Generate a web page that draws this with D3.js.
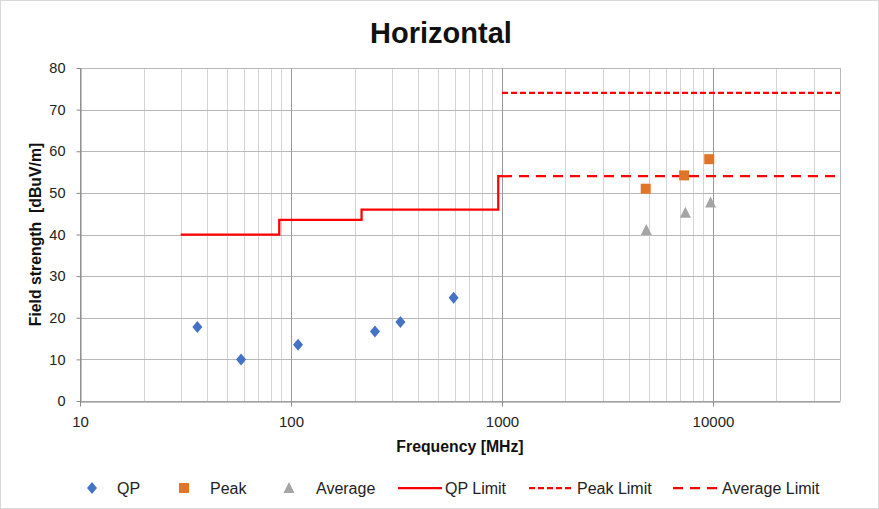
<!DOCTYPE html>
<html>
<head>
<meta charset="utf-8">
<script src="https://cdn.jsdelivr.net/npm/d3@7"></script>
<style>
  body { margin: 0; background: #fff; }
  text { font-family: "Liberation Sans", Arial, sans-serif; }
</style>
</head>
<body>
<div id="app"></div>
<script>
// measured points
const qpFreq = [36, 58, 108, 250, 330, 590]
    , qpLevel = [17.8, 10, 13.5, 16.7, 19, 24.8];
const peakFreq = [4800, 7300, 9600]
    , peakLevel = [51, 54.2, 58.1];
const avgFreq = [4830, 7400, 9750]
    , avgLevel = [41.1, 45.2, 47.7];

// limit lines (step)
const qpLimitFreq = [30, 88, 88, 216, 216, 960, 960, 1000]
    , qpLimitLevel = [40, 40, 43.5, 43.5, 46, 46, 54, 54];
const peakLimitFreq = [1000, 40000]
    , peakLimitLevel = [74, 74];
const avgLimitFreq = [1000, 40000]
    , avgLimitLevel = [54, 54];

const xTicks = [10, 100, 1000, 10000];
const yTicks = [0, 10, 20, 30, 40, 50, 60, 70, 80];
const legendLabels = ["QP", "Peak", "Average", "QP Limit", "Peak Limit", "Average Limit"];

const width = 879
    , height = 509
    , margin = { top: 68, right: 39, bottom: 108, left: 80 };

const font = "Liberation Sans, Arial, sans-serif";

const svg = d3.select("#app").append("svg")
    .attr("width", width)
    .attr("height", height);

svg.append("rect")
    .attr("x", 0.5).attr("y", 0.5)
    .attr("width", width - 1).attr("height", height - 1)
    .attr("fill", "#fff")
    .attr("stroke", "#d9d9d9");

const x = d3.scaleLog()
    .domain([10, 40000])
    .range([margin.left, width - margin.right]);

const y = d3.scaleLinear()
    .domain([0, 80])
    .range([height - margin.bottom, margin.top]);

// grid
const minor = [];
[10, 100, 1000, 10000].forEach(dec => {
  for (let k = 2; k <= 9; k++) if (dec * k <= 40000) minor.push(dec * k);
});

svg.append("g")
  .selectAll("line")
    .data(minor)
  .enter().append("line")
    .attr("x1", d => Math.round(x(d)) + 0.5)
    .attr("x2", d => Math.round(x(d)) + 0.5)
    .attr("y1", y(0))
    .attr("y2", y(80))
    .attr("stroke", "#d4d4d4");

svg.append("g")
  .selectAll("line")
    .data(yTicks)
  .enter().append("line")
    .attr("x1", x(10))
    .attr("x2", x(40000))
    .attr("y1", d => Math.round(y(d)) + 0.5)
    .attr("y2", d => Math.round(y(d)) + 0.5)
    .attr("stroke", "#b8b8b8");

svg.append("g")
  .selectAll("line")
    .data(xTicks.concat([40000]))
  .enter().append("line")
    .attr("x1", d => Math.round(x(d)) + 0.5)
    .attr("x2", d => Math.round(x(d)) + 0.5)
    .attr("y1", y(0))
    .attr("y2", y(80))
    .attr("stroke", (d, i) => i === 4 ? "#b8b8b8" : "#999");

// axes
const xAxis = svg.append("g")
    .attr("transform", `translate(0,${Math.round(y(0)) + 0.5})`)
    .call(d3.axisBottom(x).tickValues(xTicks).tickFormat(d3.format("d")).tickSize(5).tickSizeOuter(0));
xAxis.select(".domain").attr("stroke", "#888");
xAxis.selectAll(".tick line").attr("stroke", "#888");
xAxis.selectAll("text")
    .attr("font-size", 15)
    .attr("fill", "#222")
    .attr("y", 25)
    .attr("dy", 0)
    .style("font-family", font);

const yAxis = svg.append("g")
    .attr("transform", `translate(${Math.round(x(10)) + 0.5},0)`)
    .call(d3.axisLeft(y).tickValues(yTicks).tickSize(4).tickSizeOuter(0));
yAxis.select(".domain").attr("stroke", "#888");
yAxis.selectAll(".tick line").attr("stroke", "#888");
yAxis.selectAll("text")
    .attr("font-size", 14.5)
    .attr("fill", "#222")
    .attr("x", -15)
    .style("font-family", font);

// titles
svg.append("text")
    .attr("x", 441).attr("y", 43)
    .attr("text-anchor", "middle")
    .attr("font-size", 29)
    .attr("font-weight", "bold")
    .attr("fill", "#111")
    .text("Horizontal");

svg.append("text")
    .attr("x", (x(10) + x(40000)) / 2).attr("y", 452)
    .attr("text-anchor", "middle")
    .attr("font-size", 15.8)
    .attr("font-weight", "bold")
    .attr("fill", "#111")
    .text("Frequency [MHz]");

svg.append("text")
    .attr("transform", `translate(41,${(y(0) + y(80)) / 2}) rotate(-90)`)
    .attr("text-anchor", "middle")
    .attr("font-size", 15.8)
    .attr("font-weight", "bold")
    .attr("fill", "#111")
    .style("white-space", "pre")
    .text("Field strength  [dBuV/m]");

// limit lines
const line = d3.line()
    .x(d => x(d[0]))
    .y(d => y(d[1]));

const limits = [
  { f: qpLimitFreq, v: qpLimitLevel, dash: null },
  { f: peakLimitFreq, v: peakLimitLevel, dash: "6,3" },
  { f: avgLimitFreq, v: avgLimitLevel, dash: "10,7" }
];

svg.append("g")
  .selectAll("path")
    .data(limits)
  .enter().append("path")
    .attr("d", d => line(d3.zip(d.f, d.v)))
    .attr("fill", "none")
    .attr("stroke", "#ff0000")
    .attr("stroke-width", 2.25)
    .attr("stroke-dasharray", d => d.dash);

// markers
svg.append("g")
  .selectAll("path")
    .data(d3.zip(qpFreq, qpLevel))
  .enter().append("path")
    .attr("transform", d => `translate(${x(d[0])},${y(d[1])})`)
    .attr("d", "M0,-6L5,0L0,6L-5,0Z")
    .attr("fill", "#4472c4");

svg.append("g")
  .selectAll("rect")
    .data(d3.zip(peakFreq, peakLevel))
  .enter().append("rect")
    .attr("x", d => x(d[0]) - 5)
    .attr("y", d => y(d[1]) - 5)
    .attr("width", 10)
    .attr("height", 10)
    .attr("fill", "#e07428");

svg.append("g")
  .selectAll("path")
    .data(d3.zip(avgFreq, avgLevel))
  .enter().append("path")
    .attr("transform", d => `translate(${x(d[0])},${y(d[1])})`)
    .attr("d", "M0,-6L5.5,5L-5.5,5Z")
    .attr("fill", "#a5a5a5");

// legend
const ly = 488;
const leg = svg.append("g");
const legendItems = [
  { sx: 92, tx: 117, kind: "diamond" },
  { sx: 184, tx: 210, kind: "square" },
  { sx: 289, tx: 316, kind: "triangle" },
  { sx: 420, tx: 445, kind: "line", dash: null },
  { sx: 551, tx: 577, kind: "line", dash: "6,3" },
  { sx: 695, tx: 722, kind: "line", dash: "10,7" }
];

legendItems.forEach((it, i) => {
  if (it.kind === "diamond") {
    leg.append("path").attr("transform", `translate(${it.sx},${ly})`)
        .attr("d", "M0,-6L5,0L0,6L-5,0Z").attr("fill", "#4472c4");
  } else if (it.kind === "square") {
    leg.append("rect").attr("x", it.sx - 5).attr("y", ly - 5)
        .attr("width", 10).attr("height", 10).attr("fill", "#e07428");
  } else if (it.kind === "triangle") {
    leg.append("path").attr("transform", `translate(${it.sx},${ly})`)
        .attr("d", "M0,-6L5.5,5L-5.5,5Z").attr("fill", "#a5a5a5");
  } else {
    leg.append("line")
        .attr("x1", it.sx - 22).attr("x2", it.sx + 22)
        .attr("y1", ly).attr("y2", ly)
        .attr("stroke", "#ff0000")
        .attr("stroke-width", 2.25)
        .attr("stroke-dasharray", it.dash);
  }
  leg.append("text")
      .attr("x", it.tx).attr("y", ly + 6)
      .attr("font-size", 16)
      .attr("fill", "#222")
      .text(legendLabels[i]);
});
</script>
</body>
</html>
